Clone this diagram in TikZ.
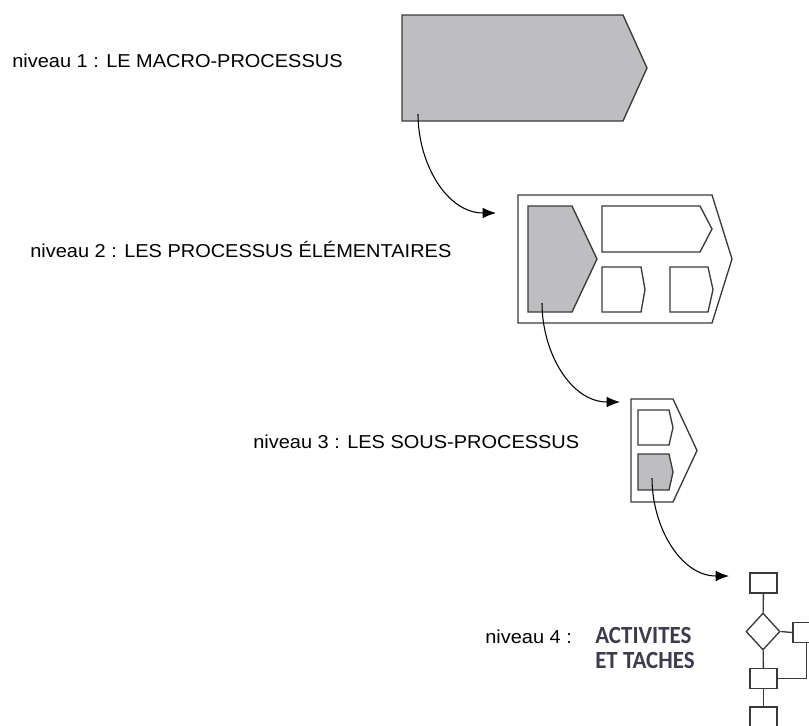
\documentclass[tikz,border=0pt]{standalone}
\usepackage{fontspec}
\setmainfont{Liberation Sans}
\newfontfamily\levelfont[FakeStretch=1.07]{Liberation Sans}
\newfontfamily\taskfont[FakeStretch=0.93]{Carlito}
\usetikzlibrary{arrows.meta, shapes.geometric}
\definecolor{procfill}{HTML}{BEBEC0}
\definecolor{procborder}{HTML}{3A3A3A}
\definecolor{tasktext}{HTML}{3C3C4C}

% arrow-shaped process box: [style]{left}{top}{right}{bottom}{tip}
\newcommand{\procshape}[6][proc]{%
  \draw[#1] (#2,#3) -- (#4,#3) -- (#6,{(#3+#5)/2}) -- (#4,#5) -- (#2,#5) -- cycle;}

\begin{document}
\begin{tikzpicture}[
    x=0.75pt, y=-0.75pt,
    >={Latex[length=10pt, width=8pt]},
    proc/.style={draw=procborder, line width=1pt},
    grayproc/.style={proc, fill=procfill},
    level/.style={font=\levelfont\fontsize{14pt}{16pt}\selectfont, anchor=west, inner sep=0pt},
    link/.style={->, line width=0.8pt, black},
    task/.style={draw=procborder, line width=1pt, inner sep=0pt,
                 minimum width=20.25pt, minimum height=15pt},
    test/.style={diamond, draw=procborder, line width=1pt, inner sep=0pt,
                 minimum width=25.5pt, minimum height=27.75pt},
]
\useasboundingbox (0,0) rectangle (809,725);
\clip (0,0) rectangle (809,725);

% Level labels
\node[level] (lvl1) at (12,61) {niveau 1 : LE MACRO-PROCESSUS};
\node[level] (lvl2) at (30,249) {niveau 2 : LES PROCESSUS ÉLÉMENTAIRES};
\node[level] (lvl3) at (253,442) {niveau 3 : LES SOUS-PROCESSUS};
\node[level] (lvl4) at (485,637) {niveau 4 :};
\node[anchor=west, inner sep=0pt, align=left, text=tasktext,
      font=\taskfont\bfseries\fontsize{18.5pt}{18.75pt}\selectfont]
    (tasks) at (595,648) {ACTIVITES\\ET TACHES};

% Level 1: macro process
\procshape[grayproc]{402}{15}{623}{121}{647}

% Level 2: elementary processes
\procshape{518}{195}{712}{323}{732}
\procshape[grayproc]{528}{206}{572}{312}{597}
\procshape{602}{206}{700}{252}{712}
\procshape{602}{267}{641}{312}{645}
\procshape{670}{267}{708}{312}{713}

% Level 3: sub-processes
\procshape{631}{399}{673}{502}{697}
\procshape{638}{410}{669}{445}{673}
\procshape[grayproc]{638}{454}{669}{490}{673}

% Level 4: activities and tasks
\node[task] (t1) at (763.5,583) {};
\node[test] (choice) at (763,631.5) {};
\node[task] (t2) at (806.5,632.5) {};
\node[task] (t3) at (763.5,678.5) {};
\node[task] (t4) at (763.5,717) {};
\draw[proc] (t1) -- (choice);
\draw[proc] (choice) -- (t3);
\draw[proc] (choice.east) -- (t2.west);
\draw[proc] (t2.south) |- (t3.east);
\draw[proc] (t3) -- (t4);

% Zoom links between levels
\coordinate (macro) at (418,114);
\coordinate (elemin) at (496,213);
\coordinate (elem) at (542,303);
\coordinate (subin) at (620,402);
\coordinate (sub) at (652,478);
\coordinate (taskin) at (729,576);
\draw[link] (macro) to[out=-90, in=180] (elemin);
\draw[link] (elem) to[out=-90, in=180] (subin);
\draw[link] (sub) to[out=-90, in=180] (taskin);

\end{tikzpicture}
\end{document}
